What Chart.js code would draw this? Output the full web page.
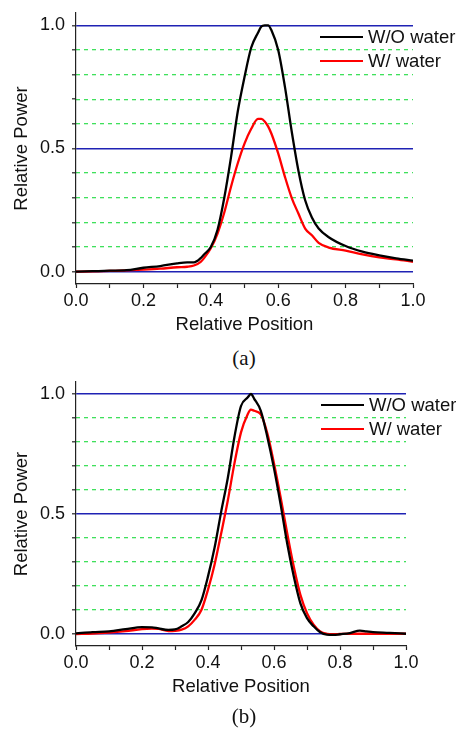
<!DOCTYPE html>
<html>
<head>
<meta charset="utf-8">
<script src="https://cdn.jsdelivr.net/npm/chart.js@4.4.1/dist/chart.umd.min.js"></script>
<style>
  body { margin: 0; background: #fff; }
  #page { position: relative; width: 456px; height: 732px; font-family: 'Liberation Sans', Arial, sans-serif; color: #111; }
  .panel { position: absolute; left: 0; width: 456px; height: 340px; }
  .caption { position: absolute; left: 194px; width: 100px; line-height: 24px; text-align: center;
             font-family: 'Liberation Serif', 'Times New Roman', serif; font-size: 21px; }
  .legend { position: absolute; font-size: 18.5px; }
  .legend div { height: 24px; display: flex; align-items: center; white-space: nowrap; }
  .legend .swatch { display: inline-block; width: 43px; height: 2.5px; margin-right: 5px; }
</style>
</head>
<body>
<div id="page">
  <div class="panel" style="top:0"><canvas id="chartA" width="456" height="340"></canvas></div>
  <div class="legend" id="legendA" style="left:320px; top:25px"></div>
  <div class="caption" style="top:346px">(a)</div>

  <div class="panel" style="top:365px"><canvas id="chartB" width="456" height="340"></canvas></div>
  <div class="legend" id="legendB" style="left:321px; top:393px"></div>
  <div class="caption" style="top:704px">(b)</div>
</div>
<script>
// (a) perfil de potencia
const xA = [0, 0.05, 0.1, 0.15, 0.2, 0.25, 0.3, 0.33, 0.35, 0.37, 0.38, 0.4, 0.42, 0.44, 0.46, 0.48, 0.5, 0.52,
            0.54, 0.55, 0.56, 0.57, 0.58, 0.6, 0.62, 0.64, 0.66, 0.68, 0.7, 0.72, 0.75, 0.8, 0.85, 0.9, 0.95, 1.0];
const sinAguaA = [0, 0.002, 0.004, 0.006, 0.016, 0.023, 0.034, 0.038, 0.038, 0.055, 0.07, 0.1, 0.17, 0.3, 0.465, 0.65, 0.79, 0.91,
                  0.97, 0.995, 1.0, 1.0, 0.98, 0.9, 0.75, 0.57, 0.41, 0.29, 0.22, 0.175, 0.14, 0.104, 0.081, 0.066, 0.054, 0.045];
const conAguaA = [0, 0.001, 0.003, 0.005, 0.008, 0.012, 0.018, 0.02, 0.025, 0.04, 0.055, 0.095, 0.155, 0.24, 0.345, 0.44, 0.52, 0.58,
                  0.62, 0.62, 0.61, 0.59, 0.56, 0.48, 0.385, 0.3, 0.236, 0.175, 0.148, 0.117, 0.098, 0.085, 0.07, 0.058, 0.05, 0.04];

// (b) perfil de potencia
const xB = [0, 0.05, 0.1, 0.15, 0.2, 0.23, 0.25, 0.28, 0.3, 0.32, 0.34, 0.36, 0.38, 0.4, 0.42, 0.44, 0.46, 0.48, 0.5, 0.52,
            0.53, 0.54, 0.56, 0.58, 0.6, 0.62, 0.64, 0.66, 0.68, 0.7, 0.72, 0.74, 0.76, 0.78, 0.8, 0.83, 0.86, 0.88, 0.9, 0.95, 1.0];
const sinAguaB = [0.003, 0.008, 0.011, 0.02, 0.029, 0.028, 0.023, 0.017, 0.019, 0.032, 0.05, 0.087, 0.14, 0.24, 0.36, 0.51, 0.65, 0.82, 0.95, 0.985,
                  1.0, 0.98, 0.93, 0.82, 0.69, 0.54, 0.377, 0.24, 0.128, 0.066, 0.032, 0.007, -0.003, -0.004, -0.001, 0.004, 0.014, 0.011, 0.008, 0.005, 0.001];
const conAguaB = [0, 0.002, 0.006, 0.012, 0.02, 0.022, 0.021, 0.012, 0.013, 0.018, 0.032, 0.06, 0.1, 0.185, 0.29, 0.42, 0.556, 0.71, 0.84, 0.915,
                  0.935, 0.93, 0.915, 0.835, 0.71, 0.57, 0.42, 0.28, 0.163, 0.087, 0.039, 0.011, 0.001, -0.001, 0, 0.001, 0.001, 0.001, 0.001, 0.001, 0.001];

const series = ['W/O water', 'W/ water'];
const xTicks = [0, 0.1, 0.2, 0.3, 0.4, 0.5, 0.6, 0.7, 0.8, 0.9, 1.0];
const yTicks = [0, 0.1, 0.2, 0.3, 0.4, 0.5, 0.6, 0.7, 0.8, 0.9, 1.0];
const lineasSolidas = [0, 0.5, 1.0];
const lineasPunteadas = [0.1, 0.2, 0.3, 0.4, 0.6, 0.7, 0.8, 0.9];

const AZUL = '#1f22b4';
const VERDE = '#3fe05c';
const EJE = '#222';
const fuente = "'Liberation Sans', Arial, sans-serif";
const esSolida = v => lineasSolidas.some(l => Math.abs(l - v) < 1e-6);

function crearGrafico(id, xs, sinAgua, conAgua, geo) {
    const ctx = document.getElementById(id).getContext('2d');
    return new Chart(ctx, {
        type: 'line',
        data: {
            datasets: [
                { label: series[0], data: xs.map((x, i) => ({ x, y: sinAgua[i] })), borderColor: '#000000', yAxisID: 'y' },
                { label: series[1], data: xs.map((x, i) => ({ x, y: conAgua[i] })), borderColor: '#ff0000', yAxisID: 'y' }
            ]
        },
        options: {
            responsive: false,
            animation: false,
            devicePixelRatio: 1,
            layout: { padding: { left: 0, top: geo.top, right: geo.right, bottom: geo.bottom } },
            elements: {
                point: { radius: 0 },
                line: { borderWidth: 2.3, cubicInterpolationMode: 'monotone', fill: false }
            },
            plugins: { legend: { display: false }, tooltip: { enabled: false } },
            scales: {
                x: {
                    type: 'linear', min: 0, max: 1,
                    afterBuildTicks: s => { s.ticks = xTicks.map(v => ({ value: v })); },
                    afterFit: s => { s.height = 52; s.paddingLeft = 0; s.paddingRight = 0; },
                    ticks: {
                        autoSkip: false, maxRotation: 0, padding: 2, color: '#111',
                        font: { family: fuente, size: 18 },
                        callback: v => (Math.round(v * 10) % 2 === 0 ? v.toFixed(1) : '')
                    },
                    grid: { drawOnChartArea: false, tickLength: 4, tickColor: EJE, tickWidth: 1.2 },
                    border: { color: EJE, width: 1.2 },
                    title: { display: true, text: 'Relative Position', color: '#111', padding: 0,
                             font: { family: fuente, size: 18.5 } }
                },
                y: {
                    type: 'linear', min: -0.05, max: 1.05, position: 'left',
                    afterBuildTicks: s => { s.ticks = yTicks.map(v => ({ value: v })); },
                    afterFit: s => { s.width = 76; s.paddingTop = 0; s.paddingBottom = 0; },
                    ticks: {
                        autoSkip: false, padding: 7, color: '#111',
                        font: { family: fuente, size: 18 },
                        callback: v => (esSolida(v) ? v.toFixed(1) : '')
                    },
                    grid: {
                        color: c => (c.tick && esSolida(c.tick.value) ? AZUL : 'rgba(0,0,0,0)'),
                        lineWidth: 1.6, tickLength: 4, tickColor: EJE, tickWidth: 1.2
                    },
                    border: { color: EJE, width: 1.2 },
                    title: { display: true, text: 'Relative Power', color: '#111', padding: { top: 11, bottom: 0 },
                             font: { family: fuente, size: 18.5 } }
                },
                yPunteada: {
                    type: 'linear', min: -0.05, max: 1.05, position: 'left',
                    afterBuildTicks: s => { s.ticks = lineasPunteadas.map(v => ({ value: v })); },
                    afterFit: s => { s.width = 0; },
                    ticks: { display: false },
                    grid: { color: VERDE, lineWidth: 1.3, drawTicks: false },
                    border: { display: false, dash: [4, 4] }
                }
            }
        }
    });
}

function leyenda(chart, elId) {
    const el = document.getElementById(elId);
    chart.data.datasets.forEach(ds => {
        const fila = document.createElement('div');
        const muestra = document.createElement('span');
        muestra.className = 'swatch';
        muestra.style.background = ds.borderColor;
        fila.appendChild(muestra);
        fila.appendChild(document.createTextNode(ds.label));
        el.appendChild(fila);
    });
}

const graficoA = crearGrafico('chartA', xA, sinAguaA, conAguaA, { top: 13, right: 43, bottom: 4 });
const graficoB = crearGrafico('chartB', xB, sinAguaB, conAguaB, { top: 17, right: 50, bottom: 7 });
leyenda(graficoA, 'legendA');
leyenda(graficoB, 'legendB');
</script>
</body>
</html>
